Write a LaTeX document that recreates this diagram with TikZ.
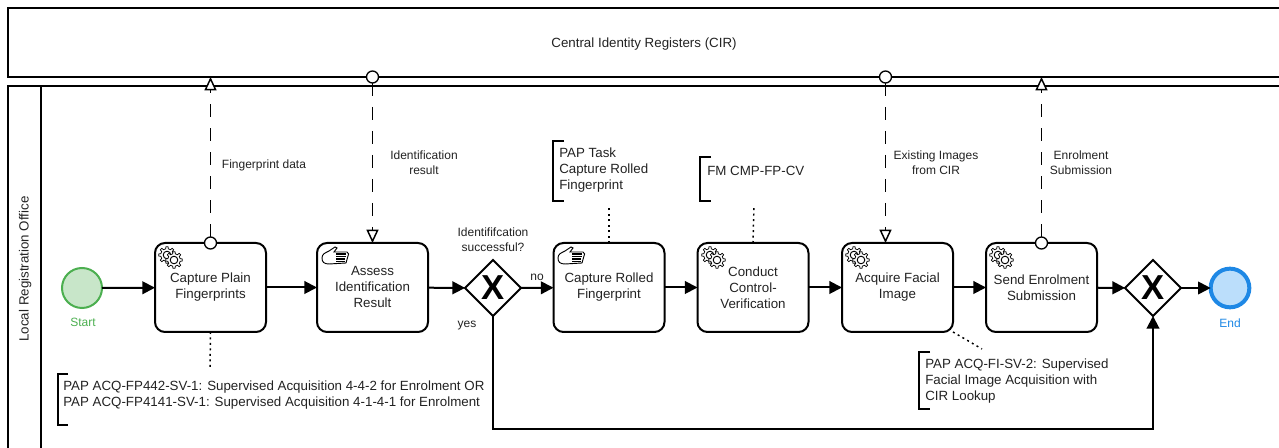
\documentclass[tikz,border=0pt]{standalone}
\usepackage{fontspec}
\setmainfont{Liberation Sans}
\usetikzlibrary{arrows.meta,shapes.geometric}

\definecolor{inktext}{HTML}{222222}
\definecolor{startline}{HTML}{4CAF50}
\definecolor{startfill}{HTML}{C8E6C9}
\definecolor{endline}{HTML}{1E88E5}
\definecolor{endfill}{HTML}{BBDEFB}

\newcommand{\linestrut}{\rule[-0.3pt]{0pt}{9.9pt}}
\newcommand{\gearicon}{
	\foreach \cx/\cy in {-3/-2,4/3}{
		\begin{scope}[shift={(\cx,\cy)}]
			\draw [fill=white,line width=.55pt] (-12:6.3) \foreach \a in {0,45,...,315}{ -- (\a-12:6.3) -- (\a-7:8.4) -- (\a+7:8.4) -- (\a+12:6.3) } -- cycle ;
			\draw [line width=.7pt] (0,0) circle [radius=3.8];
		\end{scope}
	}
}
\newcommand{\handicon}{
	\draw [line width=.7pt,fill=white] (0,12) .. controls (0,8) and (3,7) .. (7,5) -- (13,1) -- (15,2) -- (12,6) -- (25,6) .. controls (27,7) and (27,9) .. (26,10) -- (24,17) -- (7,18) .. controls (2,18) and (0,16) .. (0,12) -- cycle ;
	\foreach \y in {8,10.5,13,15.5}
		\draw [line width=1.2pt] (14,\y) -- (26-\y/5,\y);
}

\tikzset{
	struts/.style={execute at begin node=\linestrut,execute at end node=\linestrut},
	pool/.style={draw,line width=1.5pt,outer sep=0pt,inner sep=0pt},
	task/.style={draw,struts,line width=1.5pt,rounded corners=7.5pt,minimum width=83.25pt,minimum height=66.75pt,outer sep=0pt,inner sep=0pt,align=center,text=inktext,font=\fontsize{10}{12}\selectfont},
	gateway/.style={draw,diamond,aspect=1,line width=1.5pt,minimum width=42pt,minimum height=42pt,inner sep=0pt,outer sep=0pt,font=\fontsize{26}{26}\selectfont\bfseries},
	startevent/.style={draw=startline,fill=startfill,circle,line width=1.5pt,minimum size=30pt,inner sep=0pt,outer sep=0pt},
	endevent/.style={draw=endline,fill=endfill,circle,line width=3pt,minimum size=29pt,inner sep=0pt,outer sep=0pt},
	datadot/.style={draw,fill=white,circle,line width=1pt,minimum size=9pt,inner sep=0pt,outer sep=0pt},
	caption/.style={struts,inner sep=0pt,align=center,text=inktext,font=\fontsize{9}{11.25}\selectfont},
	note/.style={struts,anchor=west,inner sep=0pt,align=left,text=inktext,font=\fontsize{10}{12}\selectfont},
	bracket/.style={line width=1.1pt},
	flow/.style={line width=1.5pt,-{Triangle[length=9.5pt,width=9.5pt]}},
	message/.style={line width=1.1pt,dash pattern=on 9.5pt off 8.5pt,-{Triangle[open,fill=white,length=10pt,width=9pt]}},
	assoc/.style={line width=1.1pt,dash pattern=on 1.5pt off 2.6pt}
}

\begin{document}
\begin{tikzpicture}[x=0.75pt,y=0.75pt,yscale=-1,xscale=1]
	\useasboundingbox (0,0) rectangle (1279,448);

	%Pools
	\draw (649,42.5) node (cir) [pool,minimum width=961.5pt,minimum height=51.75pt] {};
	\draw (649,272) node (office) [pool,minimum width=961.5pt,minimum height=279pt] {};
	\draw [line width=1.5pt] (41,86) -- (41,460);
	% Text Node
	\draw (644,42) node (cirlabel) [caption,font=\fontsize{10}{12}\selectfont] {Central Identity Registers (CIR)};
	% Text Node
	\draw (23.5,269) node (officelabel) [caption,rotate=90,font=\fontsize{10}{12}\selectfont] {Local Registration Office};

	%Events and gateways
	\draw (82,288) node (start) [startevent] {};
	\draw (1230,288) node (finish) [endevent] {};
	\draw (493,288) node (gwid) [gateway] {X};
	\draw (1153,288) node (gwmerge) [gateway] {X};

	%Tasks
	\draw (210.5,287.5) node (plain) [task] {Capture Plain\\Fingerprints};
	\draw (372.5,287.5) node (assess) [task] {Assess\\Identification\\Result};
	\draw (609,287.5) node (rolled) [task] {Capture Rolled\\Fingerprint};
	\draw (753,287.5) node (control) [task] {Conduct\\Control-\\Verification};
	\draw (897.5,287.5) node (facial) [task] {Acquire Facial\\Image};
	\draw (1041.5,287.5) node (submit) [task] {Send Enrolment\\Submission};

	%Task icons
	\foreach \px/\py in {170/257,713/257,857/257,1001/257}{
		\begin{scope}[shift={(\px,\py)}]
			\gearicon
		\end{scope}
	}
	\foreach \px/\py in {322/246,558/246}{
		\begin{scope}[shift={(\px,\py)}]
			\handicon
		\end{scope}
	}

	%Sequence flows
	\draw [flow] (start) -- (plain);
	\draw [flow] (plain) -- (assess);
	\draw [flow] (assess) -- (gwid);
	\draw [flow] (gwid) -- (rolled);
	\draw [flow] (rolled) -- (control);
	\draw [flow] (control) -- (facial);
	\draw [flow] (facial) -- (submit);
	\draw [flow] (submit) -- (gwmerge);
	\draw [flow] (gwmerge) -- (finish);
	\draw [flow] (gwid.south) -- ++(0,113) -| (gwmerge.south);

	%Message flows
	\draw (210.5,243) node (plainout) [datadot] {};
	\draw (372.5,77) node (cirresult) [datadot] {};
	\draw (885.5,77) node (cirimages) [datadot] {};
	\draw (1041.5,243) node (submitout) [datadot] {};
	\draw [message] (plainout) -- (plainout |- cir.south);
	\draw [message] (cirresult) -- (cirresult |- assess.north);
	\draw [message] (cirimages) -- (cirimages |- facial.north);
	\draw [message] (submitout) -- (submitout |- cir.south);

	%Annotations
	\draw [bracket] (68,374) -- (58,374) -- (58,425) -- (68,425);
	\draw [bracket] (564,141) -- (553,141) -- (553,201) -- (564,201);
	\draw [bracket] (711,157) -- (700,157) -- (700,201) -- (711,201);
	\draw [bracket] (930,352) -- (919,352) -- (919,409) -- (930,409);
	\coordinate (plainnote) at (210,370);
	\coordinate (rollednote) at (609,205);
	\coordinate (controlnote) at (754,205);
	\coordinate (facialnote) at (982,349);
	\draw [assoc] (plain.south) -- (plainnote);
	\draw [assoc] (rolled.north) -- (rollednote);
	\draw [assoc] (control.north) -- (controlnote);
	\draw [assoc] (facial.south east) -- (facialnote);
	% Text Node
	\draw (63,395) node (plaintext) [note] {PAP ACQ-FP442-SV-1: Supervised Acquisition 4-4-2 for Enrolment OR\\PAP ACQ-FP4141-SV-1: Supervised Acquisition 4-1-4-1 for Enrolment};
	% Text Node
	\draw (559,170.5) node (rolledtext) [note] {PAP Task\\Capture Rolled\\Fingerprint};
	% Text Node
	\draw (707,169) node (controltext) [note] {FM CMP-FP-CV};
	% Text Node
	\draw (925,381) node (facialtext) [note] {PAP ACQ-FI-SV-2: Supervised\\Facial Image Acquisition with\\CIR Lookup};

	% Text Node
	\draw (83,320.5) node (startlabel) [caption,text=startline] {Start};
	% Text Node
	\draw (1230,321.5) node (endlabel) [caption,text=endline] {End};
	% Text Node
	\draw (264,163) node (fplabel) [caption] {Fingerprint data};
	% Text Node
	\draw (424,162.5) node (idlabel) [caption] {Identification\\result};
	% Text Node
	\draw (493,240) node (gwlabel) [caption] {Identififcation\\successful?};
	% Text Node
	\draw (537,274) node (nolabel) [caption] {no};
	% Text Node
	\draw (467,322) node (yeslabel) [caption] {yes};
	% Text Node
	\draw (936,162.5) node (imglabel) [caption] {Existing Images\\from CIR};
	% Text Node
	\draw (1081,162.5) node (sublabel) [caption] {Enrolment\\Submission};
\end{tikzpicture}
\end{document}
